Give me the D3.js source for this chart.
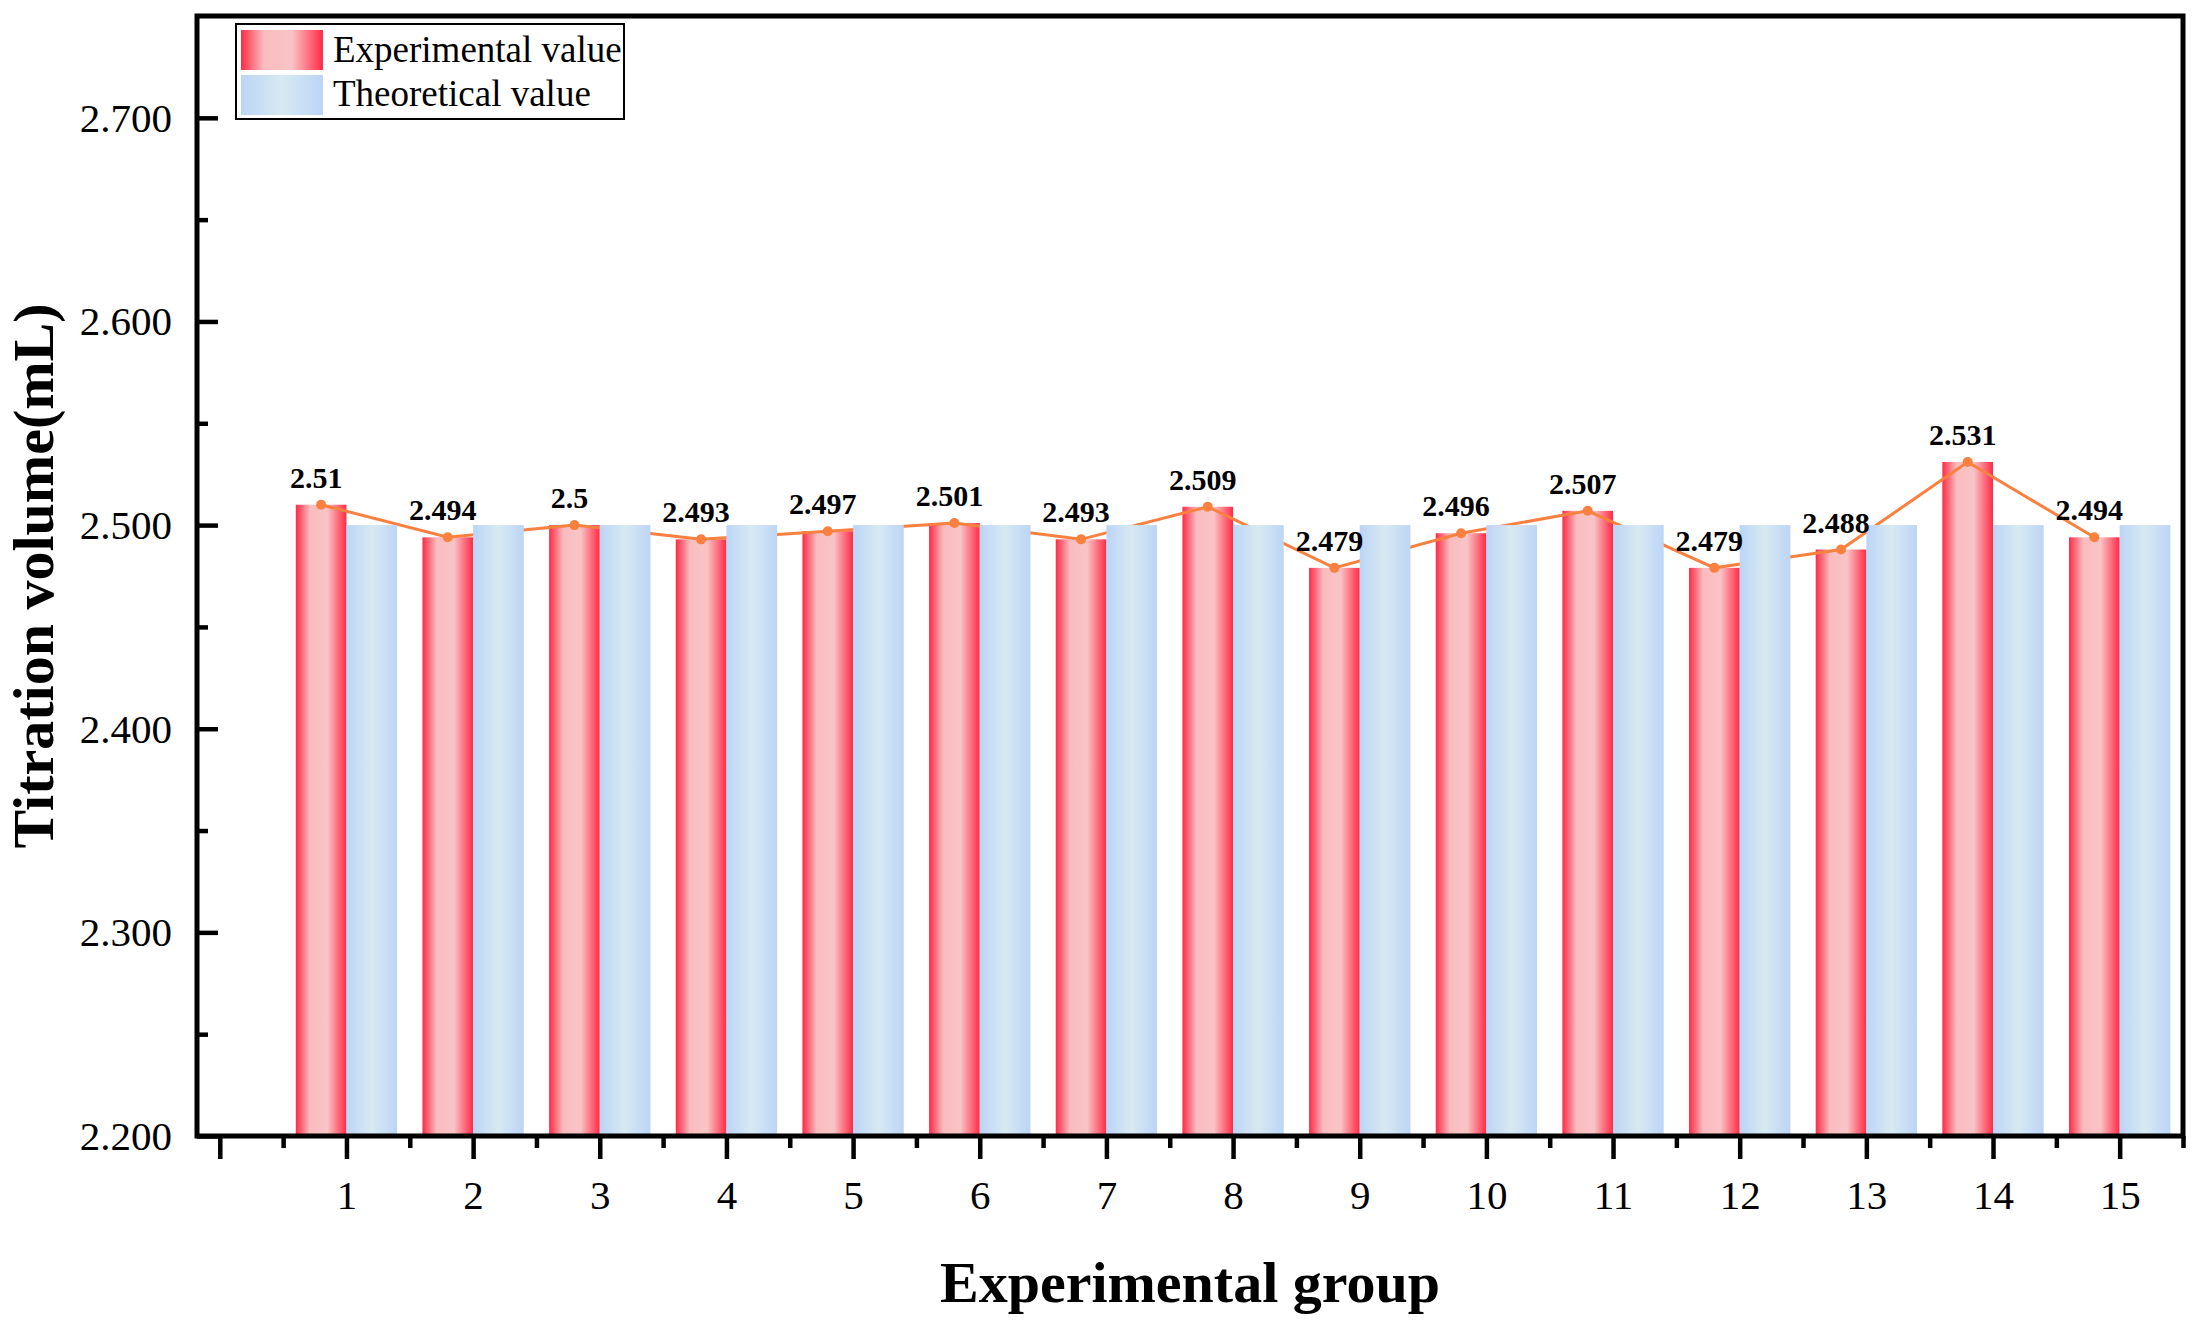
<!DOCTYPE html>
<html lang="en">
<head>
<meta charset="UTF-8">
<title>Titration volume by experimental group</title>
<style>
  body { margin: 0; background: #ffffff; }
  svg { display: block; font-family: "Liberation Serif", "Times New Roman", serif; }
</style>
</head>
<body>
<svg id="chart" width="2197" height="1327"></svg>
<script src="https://d3js.org/d3.v7.min.js"></script>
<script>
// data
const groups = [1, 2, 3, 4, 5, 6, 7, 8, 9, 10, 11, 12, 13, 14, 15];
const experimental = [2.51, 2.494, 2.5, 2.493, 2.497, 2.501, 2.493, 2.509, 2.479, 2.496, 2.507, 2.479, 2.488, 2.531, 2.494];
const theoretical = [2.5, 2.5, 2.5, 2.5, 2.5, 2.5, 2.5, 2.5, 2.5, 2.5, 2.5, 2.5, 2.5, 2.5, 2.5];
const yTicks = [2.2, 2.3, 2.4, 2.5, 2.6, 2.7];
const yMinor = [2.25, 2.35, 2.45, 2.55, 2.65];
const xTicks = [0, 1, 2, 3, 4, 5, 6, 7, 8, 9, 10, 11, 12, 13, 14, 15];
const xMinor = [0.5, 1.5, 2.5, 3.5, 4.5, 5.5, 6.5, 7.5, 8.5, 9.5, 10.5, 11.5, 12.5, 13.5, 14.5, 15.5];
const seriesNames = ["Experimental value", "Theoretical value"];

const margin = { left: 197, right: 2183, top: 16, bottom: 1136 };
const barW = 0.4; // in group units

const svg = d3.select("#chart");

const x = d3.scaleLinear().domain([-0.18, 15.5]).range([margin.left, margin.right]);
const y = d3.scaleLinear().domain([2.2, 2.75]).range([margin.bottom, margin.top]);

// gradients
const defs = svg.append("defs");
const red = defs.append("linearGradient").attr("id", "gRed").attr("x1", "0").attr("x2", "1").attr("y1", "0").attr("y2", "0");
red.append("stop").attr("offset", "0%").attr("stop-color", "#ff2a45");
red.append("stop").attr("offset", "28%").attr("stop-color", "#f9bcbf");
red.append("stop").attr("offset", "62%").attr("stop-color", "#f9c4c6");
red.append("stop").attr("offset", "100%").attr("stop-color", "#ff2a45");
const blue = defs.append("linearGradient").attr("id", "gBlue").attr("x1", "0").attr("x2", "1").attr("y1", "0").attr("y2", "0");
blue.append("stop").attr("offset", "0%").attr("stop-color", "#bcd5f6");
blue.append("stop").attr("offset", "50%").attr("stop-color", "#d7e9f2");
blue.append("stop").attr("offset", "100%").attr("stop-color", "#bcd5f6");

// experimental bars
svg.append("g").selectAll("rect")
  .data(groups)
  .enter().append("rect")
  .attr("x", (g) => x(g - barW))
  .attr("y", (g, i) => y(experimental[i]))
  .attr("width", x(barW) - x(0))
  .attr("height", (g, i) => y(2.2) - y(experimental[i]))
  .attr("fill", "url(#gRed)");

// connecting line + markers (drawn under the theoretical bars)
const line = d3.line().x((g) => x(g - barW / 2)).y((g, i) => y(experimental[i]));
svg.append("path")
  .datum(groups)
  .attr("d", line)
  .attr("fill", "none")
  .attr("stroke", "#f9803f")
  .attr("stroke-width", 3);
svg.append("g").selectAll("circle")
  .data(groups)
  .enter().append("circle")
  .attr("cx", (g) => x(g - barW / 2))
  .attr("cy", (g, i) => y(experimental[i]))
  .attr("r", 5)
  .attr("fill", "#f9803f");

// theoretical bars
svg.append("g").selectAll("rect")
  .data(groups)
  .enter().append("rect")
  .attr("x", (g) => x(g))
  .attr("y", (g, i) => y(theoretical[i]))
  .attr("width", x(barW) - x(0))
  .attr("height", (g, i) => y(2.2) - y(theoretical[i]))
  .attr("fill", "url(#gBlue)");

// value labels
svg.append("g").selectAll("text")
  .data(groups)
  .enter().append("text")
  .attr("x", (g) => x(g - barW / 2) - 5)
  .attr("y", (g, i) => y(experimental[i]) - 17)
  .attr("text-anchor", "middle")
  .attr("font-size", 30)
  .attr("font-weight", "bold")
  .text((g, i) => String(experimental[i]));

// x axis ticks
const xAxis = svg.append("g").attr("transform", `translate(0,${margin.bottom})`);
xAxis.call(d3.axisBottom(x).tickValues(xTicks).tickSize(23).tickSizeOuter(0)
  .tickFormat((d) => (d === 0 ? "" : d)));
xAxis.append("g").call(d3.axisBottom(x).tickValues(xMinor).tickSize(12).tickSizeOuter(0).tickFormat(""));
xAxis.selectAll(".domain").remove();
xAxis.selectAll("line").attr("stroke", "#000").attr("stroke-width", 4.5);
xAxis.selectAll("text")
  .attr("y", 73).attr("dy", 0)
  .attr("font-size", 41)
  .attr("font-family", "Liberation Serif")
  .attr("fill", "#000");

// y axis ticks (inward)
const yAxis = svg.append("g").attr("transform", `translate(${margin.left},0)`);
yAxis.call(d3.axisRight(y).tickValues(yTicks).tickSize(21).tickSizeOuter(0).tickFormat(""));
yAxis.append("g").call(d3.axisRight(y).tickValues(yMinor).tickSize(11).tickSizeOuter(0).tickFormat(""));
yAxis.selectAll(".domain").remove();
yAxis.selectAll("line").attr("stroke", "#000").attr("stroke-width", 4.5);

svg.append("g").selectAll("text")
  .data(yTicks)
  .enter().append("text")
  .attr("x", margin.left - 25)
  .attr("y", (d) => y(d))
  .attr("dy", "0.34em")
  .attr("text-anchor", "end")
  .attr("font-size", 41)
  .text((d) => d3.format(".3f")(d));

// frame
svg.append("rect")
  .attr("x", margin.left)
  .attr("y", margin.top)
  .attr("width", margin.right - margin.left)
  .attr("height", margin.bottom - margin.top)
  .attr("fill", "none")
  .attr("stroke", "#000")
  .attr("stroke-width", 5);

// axis titles
svg.append("text")
  .attr("x", (margin.left + margin.right) / 2)
  .attr("y", 1302)
  .attr("text-anchor", "middle")
  .attr("font-size", 58)
  .attr("font-weight", "bold")
  .text("Experimental group");

svg.append("text")
  .attr("transform", `translate(53,${(margin.top + margin.bottom) / 2}) rotate(-90)`)
  .attr("text-anchor", "middle")
  .attr("font-size", 58)
  .attr("font-weight", "bold")
  .text("Titration volume(mL)");

// legend
const legend = svg.append("g");
legend.append("rect")
  .attr("x", 236).attr("y", 24).attr("width", 388).attr("height", 95)
  .attr("fill", "#fff").attr("stroke", "#000").attr("stroke-width", 2);
const swatchFill = ["url(#gRed)", "url(#gBlue)"];
seriesNames.forEach((name, i) => {
  legend.append("rect")
    .attr("x", 241).attr("y", 30 + i * 45).attr("width", 82).attr("height", 40)
    .attr("fill", swatchFill[i]);
  legend.append("text")
    .attr("x", 333).attr("y", 62 + i * 44)
    .attr("font-size", 37)
    .text(name);
});
</script>
</body>
</html>
